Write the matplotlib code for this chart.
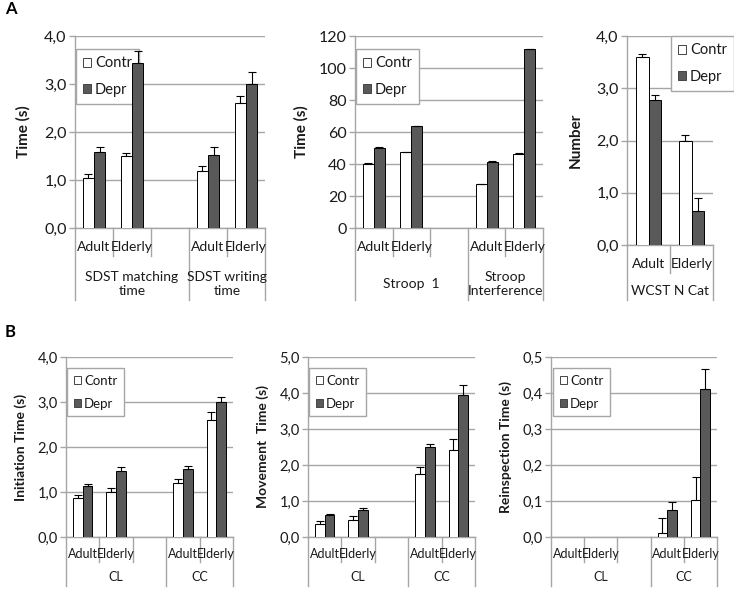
import matplotlib
matplotlib.use("Agg")
import matplotlib.pyplot as plt
import matplotlib.transforms as mtransforms
from matplotlib.patches import Patch

plt.rcParams['font.family'] = ['Lato', 'DejaVu Sans']

W, H = 734, 596

ages = ["Adult", "Elderly"]

# Panel A - SDST
sdst_groups = ["SDST matching\ntime", "SDST writing\ntime"]
sdst_contr = [1.04, 1.49, 1.19, 2.61]
sdst_contr_err = [0.08, 0.08, 0.11, 0.15]
sdst_depr = [1.58, 3.43, 1.53, 2.99]
sdst_depr_err = [0.10, 0.25, 0.16, 0.25]

# Panel A - Stroop
stroop_groups = ["Stroop  1", "Stroop\nInterference"]
stroop_contr = [40.2, 47.5, 27.3, 46.3]
stroop_contr_err = [0.3, 0.3, 0.3, 0.3]
stroop_depr = [50.0, 63.5, 41.5, 111.7]
stroop_depr_err = [0.4, 0.4, 0.4, 0.4]

# Panel A - WCST
wcst_groups = ["WCST N Cat"]
wcst_contr = [3.59, 2.00]
wcst_contr_err = [0.07, 0.10]
wcst_depr = [2.78, 0.66]
wcst_depr_err = [0.09, 0.24]

# Panel B
b_groups = ["CL", "CC"]
init_contr = [0.86, 0.99, 1.20, 2.61]
init_contr_err = [0.07, 0.09, 0.09, 0.16]
init_depr = [1.14, 1.46, 1.52, 2.99]
init_depr_err = [0.04, 0.10, 0.05, 0.13]

move_contr = [0.36, 0.48, 1.75, 2.41]
move_contr_err = [0.09, 0.11, 0.19, 0.30]
move_depr = [0.62, 0.75, 2.50, 3.94]
move_depr_err = [0.03, 0.06, 0.09, 0.27]

reinsp_contr = [0.0, 0.0, 0.010, 0.102]
reinsp_contr_err = [0.0, 0.0, 0.043, 0.065]
reinsp_depr = [0.0, 0.0, 0.074, 0.410]
reinsp_depr_err = [0.0, 0.0, 0.023, 0.057]

fig = plt.figure(figsize=(W / 100, H / 100), dpi=100)

GRID = '#a6a6a6'
DARK = '#595959'
TXT = '#1a1a1a'


def px_axes(x0, y0, x1, y1):
    return fig.add_axes([x0 / W, 1 - y1 / H, (x1 - x0) / W, (y1 - y0) / H])


def panel(rect, contr, contr_err, depr, depr_err, groups, slots, ticks, fmt,
          ylabel, ylab_x, depths, legend_xy, fs, tfs, yfs, lfs):
    x0, y0, x1, y1 = rect
    ax = px_axes(*rect)
    hpx = y1 - y0
    n = sum(slots)
    bw = 0.29

    pos = []
    start = 0
    for s in slots:
        pos += [start, start + 1]
        start += s

    cx = [p - bw / 2 for p in pos]
    dx = [p + bw / 2 for p in pos]
    ax.bar(cx, contr, bw, color='white', edgecolor='black', linewidth=0.7, zorder=3)
    ax.bar(dx, depr, bw, color=DARK, edgecolor='black', linewidth=0.7, zorder=3)
    for xs, v, e in [(cx, contr, contr_err), (dx, depr, depr_err)]:
        for x, vv, ee in zip(xs, v, e):
            if vv == 0 and ee == 0:
                continue
            ax.errorbar(x, vv, yerr=[[0], [ee]], color='black', lw=0.8,
                        capsize=3, capthick=0.8, zorder=4)

    ax.set_xlim(-0.5, n - 0.5)
    ax.set_ylim(ticks[0], ticks[-1])
    ax.set_yticks(ticks)
    ax.set_yticklabels([fmt(t) for t in ticks], fontsize=tfs, color=TXT)
    ax.set_xticks([])
    ax.yaxis.grid(True, color=GRID, lw=1)
    ax.set_axisbelow(True)
    ax.tick_params(axis='y', length=4, color=GRID, width=1, pad=2)
    for s in ['top', 'right']:
        ax.spines[s].set_visible(False)
    for s in ['left', 'bottom']:
        ax.spines[s].set_color(GRID)
        ax.spines[s].set_linewidth(1)
    ax.set_ylabel(ylabel, fontsize=yfs, fontweight='bold', color=TXT)
    ax.yaxis.set_label_coords((ylab_x - x0) / (x1 - x0), 0.5)

    # category axis
    d_age, d_sep, d_grp, d_bot = [-d / hpx for d in depths]
    tr = mtransforms.blended_transform_factory(ax.transData, ax.transAxes)
    kw = dict(transform=tr, clip_on=False, color=GRID, lw=1)
    ax.plot([-0.5, -0.5], [0, d_bot], **kw)
    start = 0
    for g, s in zip(groups, slots):
        for k in range(s):
            if k < 2:
                ax.text(start + k, d_age, ages[k], transform=tr, ha='center',
                        va='center', fontsize=fs, color=TXT)
            if k < s - 1:
                ax.plot([start + k + 0.5] * 2, [0, d_sep], **kw)
        ax.plot([start + s - 0.5] * 2, [0, d_bot], **kw)
        ax.text(start + (s - 1) / 2, d_grp, g, transform=tr, ha='center',
                va='center', fontsize=fs, color=TXT, linespacing=1.15)
        start += s

    handles = [Patch(facecolor='white', edgecolor='#444444', lw=0.7, label='Contr'),
               Patch(facecolor=DARK, edgecolor='#444444', lw=0.7, label='Depr')]
    leg = ax.legend(handles=handles, loc='upper left',
                    bbox_to_anchor=(legend_xy[0] / W, 1 - legend_xy[1] / H),
                    bbox_transform=fig.transFigure, fontsize=lfs, frameon=True,
                    fancybox=False, edgecolor=GRID, framealpha=1,
                    borderaxespad=0, handlelength=0.55, handleheight=0.55,
                    handletextpad=0.25, labelspacing=0.85, borderpad=0.5)
    leg.get_frame().set_linewidth(1)
    leg.set_zorder(2.5)
    for t in leg.get_texts():
        t.set_color(TXT)
    return ax


comma1 = lambda t: f"{t:.1f}".replace('.', ',')
intf = lambda t: f"{t:.0f}"

panel((75, 36, 265, 228), sdst_contr, sdst_contr_err, sdst_depr, sdst_depr_err,
      sdst_groups, [3, 2], [0, 1, 2, 3, 4], comma1, "Time (s)", 31,
      (19, 28, 56, 72), (76, 49), 10, 11.5, 11, 10.5)
panel((355, 36, 543, 228), stroop_contr, stroop_contr_err, stroop_depr, stroop_depr_err,
      stroop_groups, [3, 2], [0, 20, 40, 60, 80, 100, 120], intf, "Time (s)", 309,
      (19, 28, 56, 72), (356, 49), 10, 11.5, 11, 10.5)
panel((627, 36, 713, 245), wcst_contr, wcst_contr_err, wcst_depr, wcst_depr_err,
      wcst_groups, [2], [0, 1, 2, 3, 4], comma1, "Number", 583,
      (19, 28, 46, 55), (671, 36), 10, 11.5, 11, 10.5)

panel((66, 357, 233, 537), init_contr, init_contr_err, init_depr, init_depr_err,
      b_groups, [3, 2], [0, 1, 2, 3, 4], comma1, "Initiation Time (s)", 27,
      (17, 25, 40, 49), (67, 368), 9, 10.5, 10, 9.5)
panel((308, 357, 475, 537), move_contr, move_contr_err, move_depr, move_depr_err,
      b_groups, [3, 2], [0, 1, 2, 3, 4, 5], comma1, "Movement  Time (s)", 269,
      (17, 25, 40, 49), (309, 368), 9, 10.5, 10, 9.5)
panel((551, 357, 717, 537), reinsp_contr, reinsp_contr_err, reinsp_depr, reinsp_depr_err,
      b_groups, [3, 2], [0, 0.1, 0.2, 0.3, 0.4, 0.5], comma1, "Reinspection Time (s)", 512,
      (17, 25, 40, 49), (553, 368), 9, 10.5, 10, 9.5)

fig.text(11 / W, 1 - 9 / H, "A", fontsize=12, fontweight='bold', ha='center', va='center')
fig.text(10 / W, 1 - 332 / H, "B", fontsize=12, fontweight='bold', ha='center', va='center')

fig.savefig("out.png", dpi=100)
